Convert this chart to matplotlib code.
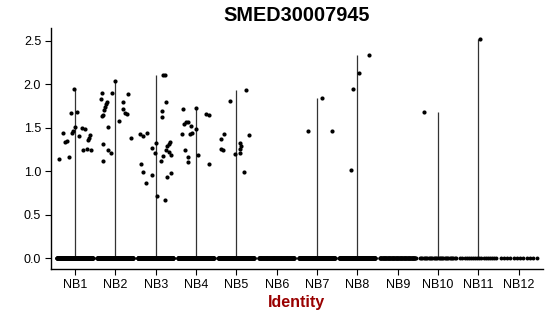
import numpy as np
import matplotlib
matplotlib.use('Agg')
import matplotlib.pyplot as plt

plt.rcParams['font.family'] = ['Liberation Sans', 'DejaVu Sans']

groups = ['NB1', 'NB2', 'NB3', 'NB4', 'NB5', 'NB6',
          'NB7', 'NB8', 'NB9', 'NB10', 'NB11', 'NB12']

# expression of the non-zero cells per group
nb1 = [1.94, 1.67, 1.68, 1.51, 1.46, 1.44, 1.50, 1.48, 1.44, 1.40,
       1.35, 1.33, 1.41, 1.38, 1.36, 1.24, 1.25, 1.24, 1.14, 1.16]
nb2 = [2.04, 1.90, 1.90, 1.89, 1.83, 1.80, 1.77, 1.74, 1.70, 1.80, 1.71,
       1.67, 1.66, 1.64, 1.63, 1.58, 1.51, 1.38, 1.31, 1.24, 1.21, 1.12]
nb3 = [2.10, 2.11, 1.80, 1.69, 1.62, 1.43, 1.40, 1.44, 1.32, 1.27, 1.21,
       1.33, 1.31, 1.29, 1.24, 1.22, 1.19, 1.17, 1.12, 1.08, 0.99, 0.96,
       0.86, 0.98, 0.93, 0.71, 0.67]
nb4 = [1.72, 1.73, 1.66, 1.64, 1.57, 1.56, 1.54, 1.52, 1.49, 1.43, 1.43,
       1.44, 1.24, 1.19, 1.16, 1.11, 1.08]
nb5 = [1.93, 1.81, 1.43, 1.37, 1.41, 1.32, 1.29, 1.26, 1.26, 1.24, 1.21,
       1.20, 0.99]
nb7 = [1.84, 1.46, 1.46]
nb8 = [2.34, 2.13, 1.94, 1.01]
nb10 = [1.68]
nb11 = [2.52]
nonzero = [nb1, nb2, nb3, nb4, nb5, [], nb7, nb8, [], nb10, nb11, []]

# jitter of those points (fraction of a category)
jit = [
    [-0.02, -0.10, 0.06, 0.01, -0.06, -0.07, 0.17, 0.26, -0.30, 0.09,
     -0.20, -0.24, 0.38, 0.35, 0.32, 0.19, 0.30, 0.39, -0.39, -0.14],
    [-0.02, -0.33, -0.08, 0.32, -0.36, -0.21, -0.23, -0.25, -0.27, 0.19,
     0.19, 0.23, 0.28, -0.31, -0.33, 0.08, -0.17, 0.39, -0.31, -0.17,
     -0.12, -0.31],
    [0.19, 0.22, 0.25, 0.15, 0.15, -0.39, -0.31, -0.21, 0.00, -0.09,
     -0.02, 0.35, 0.32, 0.28, 0.25, 0.32, 0.38, 0.19, 0.12, -0.37, -0.31,
     -0.09, -0.24, 0.37, 0.27, 0.04, 0.22],
    [-0.33, -0.01, 0.24, 0.32, -0.21, -0.26, -0.31, -0.12, -0.01, -0.36,
     -0.15, -0.09, -0.28, 0.05, -0.21, -0.20, 0.31],
    [0.25, -0.17, -0.30, -0.39, 0.31, 0.09, 0.11, 0.08, -0.39, -0.34,
     0.09, -0.04, 0.19],
    [],
    [0.12, -0.23, 0.38],
    [0.28, 0.03, -0.12, -0.17],
    [],
    [-0.34],
    [0.05],
    [],
]

# approximate number of zero-expression cells per group
n_zero = [300, 300, 300, 300, 250, 150, 250, 250, 100, 30, 18, 12]

fig = plt.figure(figsize=(5.5, 3.16), dpi=100)
ax = fig.add_axes([50.8 / 550, 47 / 316, 492.2 / 550, 241 / 316])

for i, g in enumerate(groups):
    xc = i + 1
    vals = nonzero[i]
    if len(vals) > 0:
        ax.vlines(xc, 0, max(vals), color='#333333', lw=0.9, zorder=1)
    # zero cells
    zx = xc + np.linspace(-0.45, 0.44, n_zero[i])
    ax.scatter(zx, np.zeros(n_zero[i]), s=8, color='black', lw=0, zorder=2)
    if len(vals) > 0:
        ax.scatter(xc + np.array(jit[i]), vals, s=9, color='black', lw=0,
                   zorder=3)

ax.set_xlim(0.4, 12.6)
ax.set_ylim(-0.126, 2.646)
ax.set_xticks(range(1, len(groups) + 1))
ax.set_xticklabels(groups)
ax.set_yticks([0, 0.5, 1.0, 1.5, 2.0, 2.5])
ax.set_yticklabels(['0.0', '0.5', '1.0', '1.5', '2.0', '2.5'])
ax.tick_params(axis='both', labelsize=9, length=4, width=0.8,
               color='black', labelcolor='black', pad=3)
for s in ['top', 'right']:
    ax.spines[s].set_visible(False)
for s in ['left', 'bottom']:
    ax.spines[s].set_linewidth(1.0)
    ax.spines[s].set_color('black')

ax.set_xlabel('Identity', fontsize=11.5, fontweight='bold', color='#990000',
              labelpad=3)
ax.set_title('SMED30007945', fontsize=14.3, fontweight='bold', pad=5)

fig.savefig('out.png', dpi=100)
